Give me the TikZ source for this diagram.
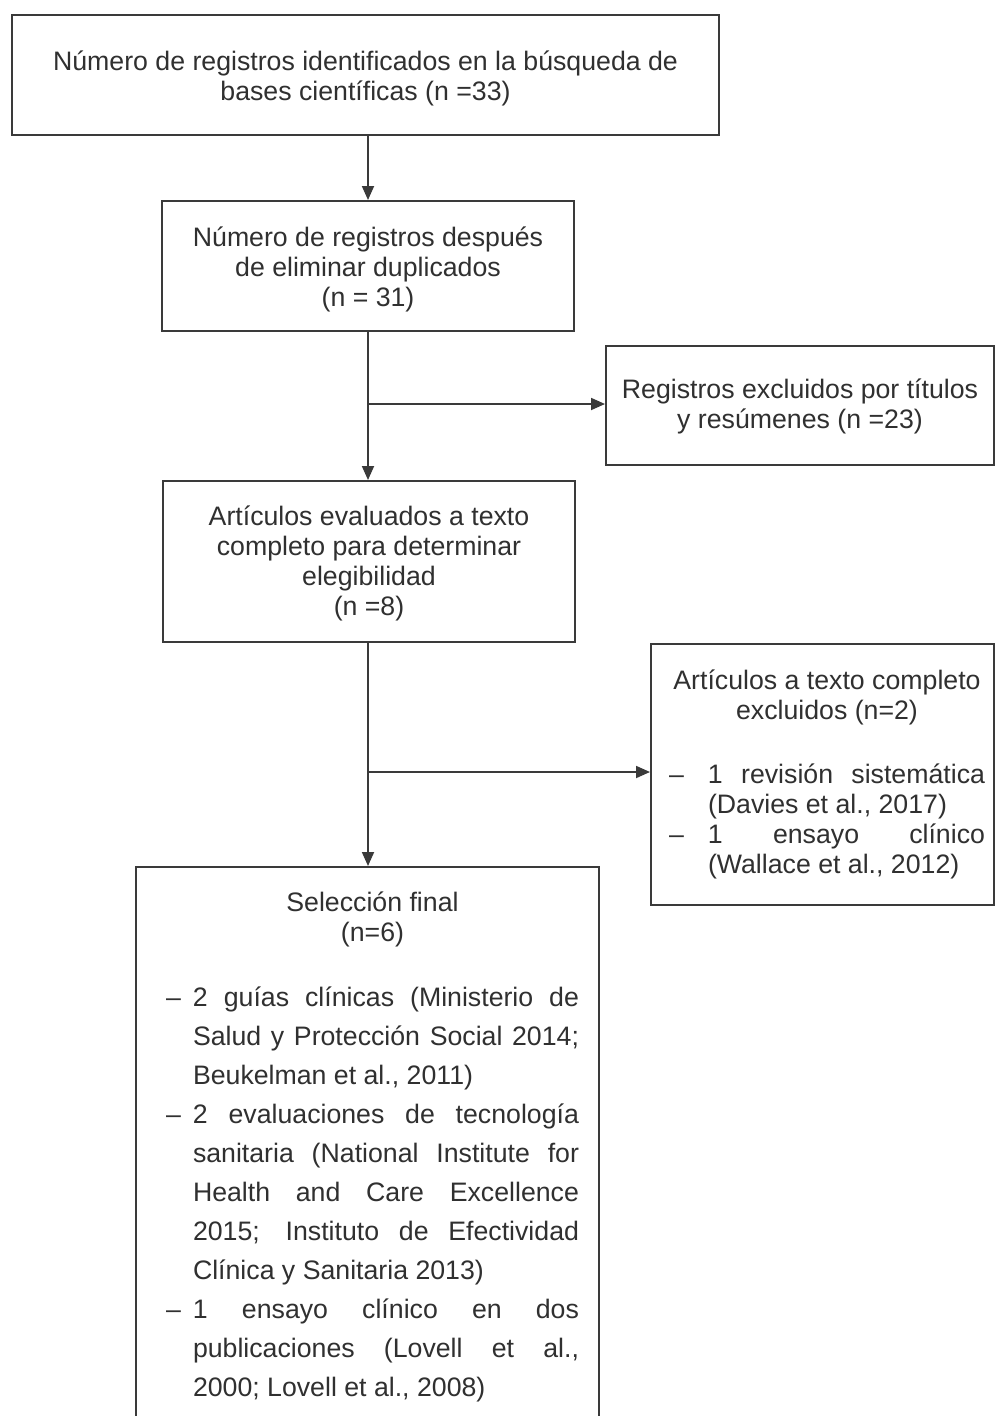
\documentclass[tikz,border=0pt]{standalone}
\usepackage{fontspec}
\setmainfont{Liberation Sans}
\usetikzlibrary{arrows.meta}
\definecolor{linec}{HTML}{3A3A3A}
\definecolor{textc}{HTML}{303030}
\newcommand\dashitem[2]{\par\noindent\hangindent=#1\relax\hangafter=1\makebox[#1][l]{–}\ignorespaces#2}
\tikzset{
  boxnode/.style={draw=linec, line width=2pt, inner sep=0pt, anchor=north west,
    text=textc, font=\fontsize{26.7}{30}\selectfont},
  conn/.style={draw=linec, line width=1.8pt, -{Triangle[length=14pt,width=12pt]}},
}
\begin{document}
\begin{tikzpicture}[x=1pt,y=-1pt]
\useasboundingbox (0,0) rectangle (994,1416);
\fill[white] (0,0) rectangle (994,1416);

\node[boxnode, text height=55pt, text depth=65pt] (B1) at (11,14)
  {\parbox[t]{707pt}{\centering Número de registros identificados en la búsqueda de\\ bases científicas (n =33)}};

\node[boxnode, text height=45pt, text depth=85pt] (B2) at (161,200)
  {\parbox[t]{412pt}{\centering Número de registros después\\ de eliminar duplicados\\ (n = 31)}};

\node[boxnode, text height=52pt, text depth=67pt] (E1) at (605,345)
  {\parbox[t]{388pt}{\centering Registros excluidos por títulos\\ y resúmenes (n =23)}};

\node[boxnode, text height=44pt, text depth=117pt] (B3) at (162,480)
  {\parbox[t]{412pt}{\centering Artículos evaluados a texto\\ completo para determinar\\ elegibilidad\\ (n =8)}};

\node[boxnode, text height=45pt, text depth=216pt] (E2) at (650,643)
  {\hspace*{18pt}\parbox[t]{316pt}{{\centering Artículos a texto completo\\ excluidos (n=2)\par}\vspace{34pt}%
   \dashitem{39pt}{1 revisión sistemática\linebreak (Davies et al., 2017)}%
   \dashitem{39pt}{1 ensayo clínico\linebreak (Wallace et al., 2012)}}\hspace*{9pt}};

\node[boxnode, text height=44pt, text depth=512pt] (B4) at (135,866)
  {\hspace*{30pt}\parbox[t]{413pt}{{\centering Selección final\\ (n=6)\par}\vspace{26pt}%
   \fontsize{26.7}{39}\selectfont
   \dashitem{27pt}{2 guías clínicas (Ministerio de\linebreak Salud y Protección Social 2014;\linebreak Beukelman et al., 2011)}%
   \dashitem{27pt}{2 evaluaciones de tecnología\linebreak sanitaria (National Institute for\linebreak Health and Care Excellence\linebreak 2015; Instituto de Efectividad\linebreak Clínica y Sanitaria 2013)}%
   \dashitem{27pt}{1 ensayo clínico en dos\linebreak publicaciones (Lovell et al.,\linebreak 2000; Lovell et al., 2008)}}\hspace*{20pt}};

\coordinate (v) at (368,0);
\coordinate (j1) at (368,404);
\coordinate (j2) at (368,772);

\draw[conn] (B1.south -| v) -- (B2.north -| v);
\draw[conn] (B2.south -| j1) -- (B3.north -| j1);
\draw[conn] (j1) -- (E1.west |- j1);
\draw[conn] (B3.south -| j2) -- (B4.north -| j2);
\draw[conn] (j2) -- (E2.west |- j2);
\end{tikzpicture}
\end{document}
